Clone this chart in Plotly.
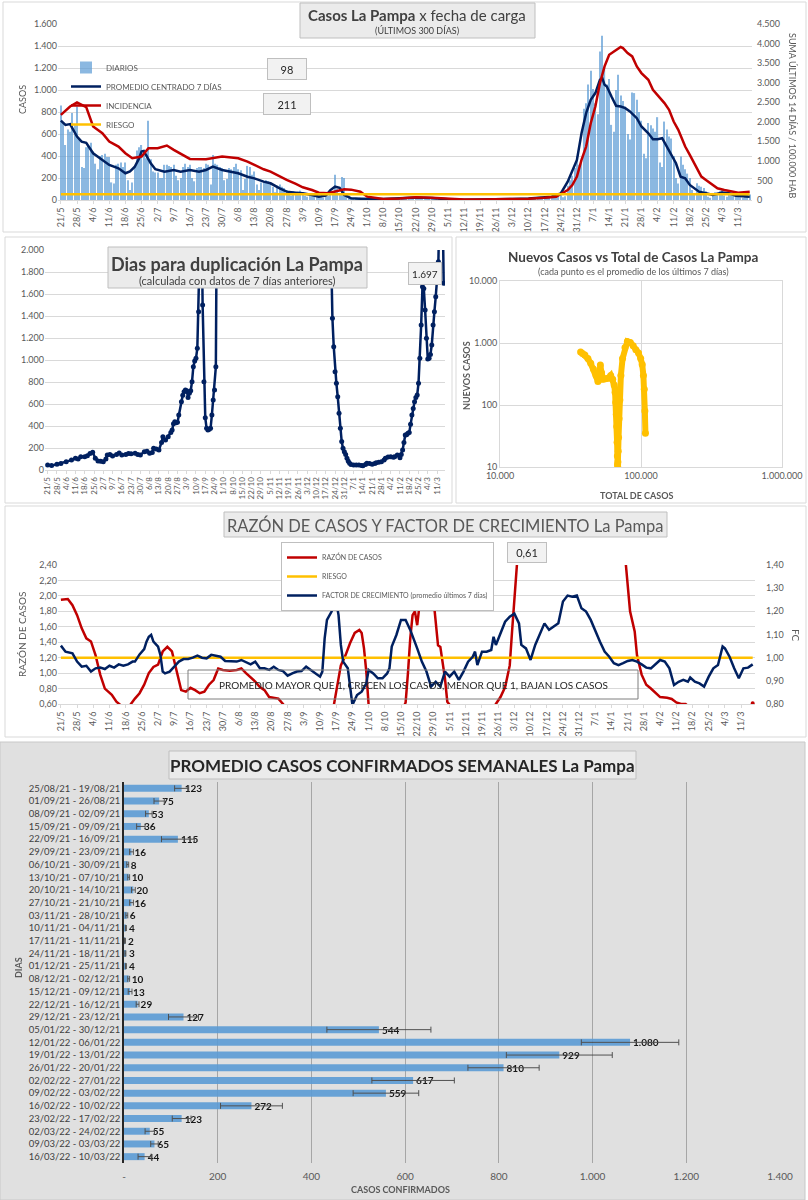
import pandas as pd
import plotly.graph_objects as go

W, H = 808, 1200


def px(x):
    return x / W


def py(y):
    return 1 - y / H


def fecha(s):
    d, m = s.split("/")
    anio = 2021 if int(m) >= 5 else 2022
    return f"{anio}-{int(m):02d}-{int(d):02d}"


FONT = "Lato"
GRIS = "#595959"
AZUL = "#002060"
ROJO = "#c00000"
NARANJA = "#ffc000"
CELESTE = "#5b9bd5"
GRILLA = "#d9d9d9"

# ---------------- datos: casos diarios (21/5/2021 -> 16/3/2022)
diarios = [
    860, 700, 500, 640, 620, 790, 680,
    850, 560, 300, 290, 480, 500, 520,
    440, 330, 280, 400, 410, 420, 390,
    390, 160, 150, 320, 330, 340, 300,
    340, 180, 90, 160, 310, 450, 480,
    500, 430, 380, 720, 370, 260, 250,
    250, 200, 200, 320, 320, 310, 300,
    320, 220, 180, 200, 300, 330, 300,
    320, 200, 170, 290, 300, 300, 290,
    330, 320, 140, 410, 330, 320, 300,
    290, 180, 190, 290, 280, 300, 330,
    280, 270, 90, 190, 310, 300, 230,
    260, 140, 90, 160, 170, 180, 170,
    160, 120, 70, 130, 140, 120, 110,
    90, 60, 40, 80, 70, 75, 85,
    70, 40, 30, 60, 55, 60, 55,
    50, 25, 20, 30, 40, 60, 55,
    230, 100, 50, 210, 200, 60, 40,
    20, 10, 8, 18, 20, 15, 12,
    10, 5, 4, 9, 10, 8, 9,
    12, 6, 5, 12, 11, 12, 10,
    22, 10, 8, 25, 28, 24, 22,
    20, 9, 8, 18, 20, 18, 17,
    8, 4, 3, 7, 6, 7, 6,
    5, 2, 2, 4, 5, 5, 5,
    3, 1, 1, 2, 3, 2, 2,
    4, 2, 1, 3, 4, 3, 4,
    5, 2, 2, 5, 5, 5, 4,
    9, 5, 4, 12, 13, 14, 13,
    15, 8, 6, 15, 16, 15, 16,
    20, 12, 10, 30, 35, 45, 55,
    55, 25, 35, 130, 180, 220, 290,
    400, 320, 360, 830, 880, 1050, 1175,
    1010, 880, 780, 1350, 1494, 1200, 1050,
    1100, 683, 620, 1000, 1138, 950, 900,
    850, 600, 550, 978, 972, 911, 800,
    720, 420, 380, 700, 680, 650, 620,
    753, 340, 300, 713, 640, 577, 560,
    400, 200, 150, 395, 320, 280, 240,
    200, 90, 60, 152, 130, 120, 110,
    80, 30, 20, 40, 70, 65, 80,
    90, 40, 30, 80, 75, 70, 70,
    60, 25, 20, 50, 55, 50,
]
fechas_diarias = pd.date_range("2021-05-21", periods=len(diarios), freq="D")

# promedio centrado 7 dias
prom7_fechas = ["21/5", "23/5", "25/5", "28/5", "30/5", "1/6", "4/6", "8/6", "11/6", "15/6", "18/6", "20/6",
                "22/6", "24/6", "25/6", "26/6", "27/6", "29/6", "1/7", "2/7", "5/7", "9/7", "12/7", "16/7",
                "20/7", "23/7", "26/7", "30/7", "3/8", "6/8", "10/8", "13/8", "17/8", "20/8", "24/8", "27/8",
                "31/8", "3/9", "7/9", "10/9", "13/9", "15/9", "17/9", "19/9", "21/9", "24/9", "28/9", "1/10",
                "8/10", "15/10", "22/10", "29/10", "5/11", "12/11", "19/11", "26/11", "3/12", "10/12", "17/12",
                "20/12", "22/12", "24/12", "27/12", "29/12", "31/12", "2/1", "4/1", "6/1", "8/1", "10/1",
                "11/1", "12/1", "13/1", "15/1", "17/1", "19/1", "21/1", "23/1", "26/1", "28/1", "31/1", "2/2",
                "4/2", "6/2", "8/2", "10/2", "12/2", "14/2", "16/2", "18/2", "20/2", "22/2", "25/2", "28/2",
                "4/3", "7/3", "10/3", "13/3", "16/3"]
prom7_valores = [722, 683, 690, 577, 531, 520, 425, 364, 319, 288, 243, 260,
                 300, 380, 440, 445, 410, 334, 280, 273, 258, 273, 258, 273,
                 258, 273, 304, 273, 258, 243, 212, 197, 167, 152, 106, 76,
                 67, 61, 46, 30, 40, 90, 121, 110, 46, 15, 12, 10,
                 9, 15, 22, 18, 6, 3, 3, 4, 9, 13, 22,
                 30, 46, 60, 167, 273, 364, 607, 789, 911, 972, 1093,
                 1108, 1047, 1032, 941, 856, 850, 835, 805, 744, 668, 607, 553,
                 553, 562, 486, 410, 334, 212, 197, 137, 106, 76, 61, 46,
                 67, 61, 39, 36, 30]

# incidencia: suma ultimos 14 dias / 100.000 hab
inc_fechas = ["21/5", "25/5", "28/5", "1/6", "4/6", "8/6", "11/6", "15/6", "18/6", "21/6", "25/6", "28/6",
              "2/7", "6/7", "9/7", "13/7", "16/7", "23/7", "30/7", "6/8", "10/8", "13/8", "17/8", "20/8",
              "24/8", "27/8", "31/8", "3/9", "7/9", "10/9", "14/9", "17/9", "21/9", "24/9", "28/9", "1/10",
              "5/10", "8/10", "15/10", "22/10", "29/10", "5/11", "12/11", "19/11", "26/11", "3/12", "10/12",
              "17/12", "22/12", "24/12", "27/12", "29/12", "31/12", "2/1", "4/1", "6/1", "8/1", "10/1",
              "12/1", "14/1", "17/1", "19/1", "20/1", "22/1", "24/1", "26/1", "28/1", "31/1", "2/2", "4/2",
              "7/2", "9/2", "11/2", "13/2", "16/2", "18/2", "20/2", "23/2", "25/2", "28/2", "2/3", "5/3",
              "8/3", "11/3", "16/3"]
inc_valores = [2178, 2391, 2494, 2374, 1879, 1708, 1494, 1366, 1196, 1067, 1110, 1324,
               1324, 1392, 1281, 1153, 1050, 1042, 1110, 1067, 982, 897, 786, 726,
               598, 512, 410, 325, 256, 188, 171, 213, 273, 265, 213, 85,
               43, 26, 40, 68, 60, 30, 15, 12, 15, 25, 35,
               55, 85, 154, 256, 384, 598, 1025, 1366, 1964, 2391, 2989,
               3416, 3715, 3843, 3911, 3885, 3758, 3672, 3416, 3245, 3074, 2818, 2690,
               2477, 2306, 2007, 1793, 1366, 1153, 939, 598, 512, 384, 299, 256,
               213, 188, 213]
RIESGO_INC = 150

# dias para duplicacion
dup_fechas = ["21/5", "24/5", "28/5", "31/5", "4/6", "8/6", "11/6", "13/6", "15/6", "18/6", "20/6", "22/6",
              "24/6", "26/6", "28/6", "30/6", "2/7", "4/7", "5/7", "7/7", "9/7", "12/7", "14/7", "16/7",
              "19/7", "21/7", "23/7", "26/7", "28/7", "30/7", "2/8", "4/8", "6/8", "8/8", "9/8", "11/8",
              "13/8", "15/8", "16/8", "18/8", "20/8", "22/8", "23/8", "24/8", "25/8", "26/8", "27/8", "28/8",
              "30/8", "31/8", "1/9", "2/9", "3/9", "4/9", "5/9", "6/9", "7/9", "8/9", "9/9", "10/9",
              "11/9", "12/9", "13/9", "14/9", "15/9", "16/9", "17/9", "18/9", "19/9", "20/9", "21/9", "22/9",
              "23/9", "24/9", "25/9", "26/9", "27/9", "19/12", "20/12", "22/12", "23/12", "24/12", "25/12",
              "26/12", "27/12", "28/12", "29/12", "30/12", "31/12", "1/1", "2/1", "3/1", "4/1", "5/1", "7/1",
              "9/1", "11/1", "13/1", "14/1", "16/1", "17/1", "19/1", "21/1", "23/1", "24/1", "26/1", "28/1",
              "30/1", "31/1", "2/2", "4/2", "6/2", "7/2", "9/2", "11/2", "12/2", "13/2", "14/2", "15/2",
              "16/2", "17/2", "18/2", "19/2", "20/2", "21/2", "22/2", "23/2", "24/2", "25/2", "26/2", "27/2",
              "28/2", "1/3", "2/3", "3/3", "4/3", "5/3", "6/3", "7/3", "8/3", "9/3", "10/3", "11/3",
              "12/3", "13/3", "14/3", "15/3", "16/3"]
dup_valores = [45, 40, 52, 60, 76, 90, 106, 100, 121, 121, 130, 150,
               161, 106, 82, 80, 76, 100, 136, 140, 127, 142, 155, 136,
               140, 150, 148, 152, 140, 136, 167, 170, 152, 160, 197, 190,
               182, 250, 303, 273, 303, 340, 364, 420, 439, 430, 433, 500,
               621, 680, 712, 727, 720, 660, 697, 720, 803, 939, 990, 1015,
               1106, 1439, 1833, 2600, 1500, 803, 476, 379, 364, 370, 379, 500,
               636, 727, 939, 3000, None, None, 2600, 1379, 1121, 894, 788,
               667, 515, 379, 258, 197, 167, 140, 106, 80, 61, 50, 45,
               45, 45, 42, 39, 50, 61, 58, 52, 60, 67, 70, 76,
               90, 106, 118, 121, 115, 121, 136, 112, 140, 182, 250, 318,
               320, 333, 340, 415, 500, 560, 621, 660, 682, 788, 1015, 1318,
               1667, 1651, 1454, 1197, 1009, 1015, 1051, 1136, 1318, 1439, 1575, 1750,
               1894, 2500, 2700, 2600, 1697]

# nuevos casos vs total de casos
total_casos = [37300, 38500, 40000, 42000, 44000, 46000, 48000, 49500, 50500, 51500, 52500, 54000,
               56000, 58500, 61000, 63000, 64500, 65500, 66200, 66800, 67300, 67700, 68000, 68200,
               68400, 68600, 68900, 69300, 69900, 70800, 72000, 74000, 77000, 80000, 84000, 88000,
               92000, 96000, 99500, 102000, 104000, 105500, 106500, 107500]
nuevos_casos = [716, 680, 640, 560, 470, 380, 300, 240, 300, 440, 330, 260,
                265, 270, 300, 260, 210, 160, 110, 70, 45, 25, 15, 11,
                10, 12, 18, 30, 60, 120, 300, 560, 850, 1060, 1020, 900,
                780, 690, 560, 450, 300, 180, 80, 35]

# razon de casos
razon_fechas = ["21/5", "24/5", "26/5", "28/5", "30/5", "1/6", "3/6", "5/6", "7/6", "9/6", "12/6", "14/6",
                "16/6", "17/6", "18/6", "19/6", "20/6", "22/6", "24/6", "26/6", "28/6", "30/6", "2/7", "4/7",
                "6/7", "8/7", "10/7", "12/7", "14/7", "16/7", "18/7", "20/7", "22/7", "24/7", "26/7", "28/7",
                "30/7", "2/8", "5/8", "7/8", "9/8", "11/8", "13/8", "15/8", "17/8", "19/8", "21/8", "23/8",
                "25/8", "27/8", "30/8", "3/9", "7/9", "11/9", "14/9", "16/9", "17/9", "18/9", "19/9", "21/9",
                "23/9", "25/9", "27/9", "28/9", "29/9", "30/9", "1/10", "3/10", "6/10", "10/10", "14/10",
                "16/10", "17/10", "18/10", "19/10", "20/10", "21/10", "22/10", "23/10", "25/10", "27/10",
                "29/10", "30/10", "31/10", "1/11", "3/11", "4/11", "5/11", "7/11", "12/11", "18/11", "23/11",
                "25/11", "27/11", "29/11", "1/12", "2/12", "3/12", "4/12", "8/12", "15/12", "25/12", "5/1",
                "15/1", "19/1", "20/1", "22/1", "24/1", "25/1", "27/1", "29/1", "31/1", "2/2", "4/2", "7/2",
                "9/2", "11/2", "13/2", "15/2", "17/2", "22/2", "1/3", "8/3", "13/3", "15/3", "16/3"]
razon_valores = [1.95, 1.96, 1.88, 1.75, 1.58, 1.45, 1.41, 1.23, 0.98, 0.80, 0.72, 0.63,
                 0.58, 0.52, 0.50, 0.55, 0.59, 0.67, 0.74, 0.85, 1.00, 1.08, 1.11, 1.28,
                 1.34, 1.28, 1.02, 0.78, 0.76, 0.81, 0.78, 0.74, 0.76, 0.85, 0.91, 1.06,
                 1.04, 1.03, 1.04, 1.06, 1.00, 0.95, 0.89, 0.82, 0.78, 0.69, 0.68, 0.67,
                 0.60, 0.52, 0.45, 0.40, 0.38, 0.42, 0.50, 0.59, 0.76, 0.93, 1.10, 1.23,
                 1.39, 1.52, 1.56, 1.52, 1.32, 1.02, 0.59, 0.40, 0.30, 0.35, 0.50,
                 0.55, 0.62, 1.00, 1.45, 1.75, 1.80, 1.62, 1.88, 1.95, 1.99,
                 1.97, 1.67, 1.36, 1.34, 0.93, 0.63, 0.59, 0.45, 0.30, 0.35, 0.50,
                 0.60, 0.69, 0.82, 1.10, 1.54, 2.31, 2.80, 4.00, 6.00, 8.00, 6.00,
                 4.00, 2.80, 2.45, 1.80, 1.54, 1.23, 0.98, 0.85, 0.80, 0.74, 0.69, 0.68,
                 0.665, 0.62, 0.60, 0.60, 0.55, 0.45, 0.40, 0.45, 0.50, 0.55, 0.61]
RIESGO_RAZON = 1.2

# factor de crecimiento (promedio ultimos 7 dias)
fc_fechas = ["21/5", "23/5", "26/5", "28/5", "30/5", "1/6", "3/6", "5/6", "7/6", "9/6", "11/6", "13/6",
             "15/6", "17/6", "19/6", "21/6", "22/6", "24/6", "26/6", "27/6", "28/6", "29/6", "30/6", "2/7",
             "3/7", "4/7", "5/7", "7/7", "9/7", "11/7", "13/7", "15/7", "17/7", "19/7", "21/7", "23/7",
             "25/7", "27/7", "29/7", "31/7", "3/8", "5/8", "7/8", "9/8", "11/8", "13/8", "15/8", "17/8",
             "19/8", "21/8", "23/8", "25/8", "27/8", "29/8", "31/8", "2/9", "4/9", "6/9", "8/9", "10/9",
             "11/9", "12/9", "13/9", "15/9", "16/9", "17/9", "18/9", "19/9", "20/9", "22/9", "24/9", "26/9",
             "28/9", "30/9", "1/10", "3/10", "5/10", "7/10", "9/10", "10/10", "11/10", "13/10", "15/10",
             "17/10", "19/10", "21/10", "22/10", "24/10", "26/10", "28/10", "30/10", "1/11", "3/11", "5/11",
             "7/11", "9/11", "11/11", "13/11", "15/11", "16/11", "17/11", "19/11", "21/11", "23/11", "24/11",
             "25/11", "27/11", "29/11", "1/12", "3/12", "5/12", "6/12", "8/12", "10/12", "12/12", "14/12",
             "16/12", "18/12", "20/12", "22/12", "24/12", "26/12", "28/12", "30/12", "1/1", "3/1", "5/1",
             "7/1", "9/1", "11/1", "13/1", "15/1", "17/1", "19/1", "21/1", "23/1", "25/1", "27/1", "29/1",
             "31/1", "2/2", "4/2", "6/2", "8/2", "10/2", "12/2", "14/2", "16/2", "17/2", "19/2", "21/2",
             "23/2", "25/2", "27/2", "1/3", "3/3", "4/3", "6/3", "8/3", "10/3", "12/3", "14/3", "16/3"]
fc_valores = [1.052, 1.026, 1.019, 0.983, 0.961, 0.965, 0.940, 0.954, 0.957, 0.951, 0.965, 0.957,
              0.971, 0.965, 0.971, 0.983, 0.983, 1.014, 1.037, 1.069, 1.090, 1.098, 1.069, 1.048,
              1.012, 0.940, 0.932, 0.940, 0.961, 0.983, 0.994, 0.994, 1.000, 1.009, 1.000, 0.997,
              1.012, 1.009, 1.004, 0.986, 0.986, 0.983, 0.990, 0.980, 0.971, 0.983, 0.954, 0.954,
              0.947, 0.961, 0.947, 0.942, 0.922, 0.932, 0.940, 0.942, 0.961, 0.947, 0.932, 0.918,
              0.940, 1.083, 1.163, 1.199, 1.227, 1.242, 1.184, 1.055, 0.983, 0.954, 0.796, 0.839,
              0.853, 0.889, 0.947, 0.932, 0.911, 0.911, 0.932, 0.954, 1.048, 1.098, 1.163,
              1.163, 1.120, 1.069, 1.040, 0.983, 0.940, 0.875, 0.896, 0.875, 0.940, 0.918,
              0.940, 0.904, 0.940, 0.983, 1.004, 1.026, 0.968, 1.026, 1.026, 1.033, 1.090,
              1.055, 1.105, 1.155, 1.177, 1.190, 1.148, 1.055, 1.040, 0.990, 1.055, 1.105,
              1.148, 1.120, 1.134, 1.148, 1.242, 1.268, 1.263, 1.268, 1.213, 1.199, 1.163,
              1.112, 1.069, 1.026, 1.004, 0.976, 0.968, 0.976, 0.986, 0.990, 0.983, 0.971, 0.957,
              0.954, 0.971, 0.990, 0.983, 0.954, 0.882, 0.896, 0.904, 0.896, 0.914, 0.896, 0.889,
              0.875, 0.918, 0.954, 0.968, 1.048, 1.040, 1.004, 0.954, 0.911, 0.954, 0.957, 0.971]

# promedio semanal de casos confirmados
semanas = ["25/08/21 - 19/08/21", "01/09/21 - 26/08/21", "08/09/21 - 02/09/21", "15/09/21 - 09/09/21",
           "22/09/21 - 16/09/21", "29/09/21 - 23/09/21", "06/10/21 - 30/09/21", "13/10/21 - 07/10/21",
           "20/10/21 - 14/10/21", "27/10/21 - 21/10/21", "03/11/21 - 28/10/21", "10/11/21 - 04/11/21",
           "17/11/21 - 11/11/21", "24/11/21 - 18/11/21", "01/12/21 - 25/11/21", "08/12/21 - 02/12/21",
           "15/12/21 - 09/12/21", "22/12/21 - 16/12/21", "29/12/21 - 23/12/21", "05/01/22 - 30/12/21",
           "12/01/22 - 06/01/22", "19/01/22 - 13/01/22", "26/01/22 - 20/01/22", "02/02/22 - 27/01/22",
           "09/02/22 - 03/02/22", "16/02/22 - 10/02/22", "23/02/22 - 17/02/22", "02/03/22 - 24/02/22",
           "09/03/22 - 03/03/22", "16/03/22 - 10/03/22"]
promedio_semanal = [123, 75, 53, 36, 115, 16, 8, 10, 20, 16, 6, 4, 2, 3, 4, 10, 13, 29, 127, 544,
                    1080, 929, 810, 617, 559, 272, 123, 55, 65, 44]
error_semanal = [15, 11, 7, 9, 35, 4, 2, 2, 4, 4, 2, 1, 1, 1, 1, 2, 4, 3, 32, 111,
                 104, 113, 76, 88, 70, 66, 20, 10, 8, 14]

fig = go.Figure()

# ---------------- panel 1
fig.add_trace(go.Bar(x=fechas_diarias, y=diarios, name="DIARIOS", marker=dict(color=CELESTE, line_width=0),
                     opacity=0.7, width=0.5 * 86400000, xaxis="x", yaxis="y", legend="legend", legendgroup="a"))
fig.add_trace(go.Scatter(x=[fecha(f) for f in prom7_fechas], y=prom7_valores, name="PROMEDIO CENTRADO 7 DÍAS",
                         mode="lines", line=dict(color=AZUL, width=2.5), xaxis="x", yaxis="y",
                         legend="legend", legendgroup="b"))
fig.add_trace(go.Scatter(x=[fecha(f) for f in inc_fechas], y=inc_valores, name="INCIDENCIA",
                         mode="lines", line=dict(color=ROJO, width=2.5), xaxis="x", yaxis="y2",
                         legend="legend", legendgroup="c"))
fig.add_trace(go.Scatter(x=[fechas_diarias[0], fechas_diarias[-1]], y=[RIESGO_INC, RIESGO_INC], name="RIESGO",
                         mode="lines", line=dict(color=NARANJA, width=2.5), xaxis="x", yaxis="y2",
                         legend="legend", legendgroup="d"))

# ---------------- panel 2
fig.add_trace(go.Scatter(x=[fecha(f) for f in dup_fechas], y=dup_valores, mode="lines+markers",
                         line=dict(color=AZUL, width=2.5), marker=dict(color=AZUL, size=5),
                         xaxis="x2", yaxis="y3", showlegend=False, connectgaps=False))

# ---------------- panel 3
fig.add_trace(go.Scatter(x=total_casos, y=nuevos_casos, mode="lines+markers",
                         line=dict(color=NARANJA, width=6), marker=dict(color=NARANJA, size=7),
                         xaxis="x3", yaxis="y4", showlegend=False))

# ---------------- panel 4
fig.add_trace(go.Scatter(x=[fecha(f) for f in razon_fechas], y=razon_valores, name="RAZÓN DE CASOS",
                         mode="lines", line=dict(color=ROJO, width=2.5), xaxis="x4", yaxis="y5",
                         legend="legend2", legendgroup="e"))
fig.add_trace(go.Scatter(x=[fechas_diarias[0], fechas_diarias[-1]], y=[RIESGO_RAZON, RIESGO_RAZON],
                         name="RIESGO", mode="lines", line=dict(color=NARANJA, width=2.5),
                         xaxis="x4", yaxis="y5", legend="legend2", legendgroup="f"))
fig.add_trace(go.Scatter(x=[fecha(f) for f in fc_fechas], y=fc_valores,
                         name="FACTOR DE CRECIMIENTO (promedio últimos 7 días)",
                         mode="lines", line=dict(color=AZUL, width=2.5), xaxis="x4", yaxis="y6",
                         legend="legend2", legendgroup="g"))
fig.add_trace(go.Scatter(x=[fecha(razon_fechas[-1])], y=[razon_valores[-1]], mode="markers",
                         marker=dict(color=ROJO, size=4), xaxis="x4", yaxis="y5", showlegend=False))

# ---------------- panel 5
fig.add_trace(go.Bar(y=semanas, x=promedio_semanal, orientation="h", width=0.55,
                     marker=dict(color="#5b9bd5", line_width=0), opacity=0.9,
                     error_x=dict(type="data", array=error_semanal, color="#404040", thickness=1, width=3),
                     texttemplate="%{x:,d}", textposition="outside", cliponaxis=False, constraintext="none",
                     textfont=dict(size=10, color="black", family=FONT, weight="bold"),
                     xaxis="x5", yaxis="y7", showlegend=False))

fechas_eje = dict(type="date", range=["2021-05-19 18:00", "2022-03-17"], tick0="2021-05-21",
                  dtick=7 * 86400000, tickformat="%-d/%-m", tickangle=-90, showgrid=False,
                  showline=True, linecolor=GRILLA, ticks="outside", ticklen=3, tickcolor=GRILLA,
                  tickfont=dict(size=9, color=GRIS), zeroline=False, automargin=False)
tick_y = dict(tickfont=dict(size=9, color=GRIS), zeroline=False, ticks="", automargin=False)

fig.update_layout(
    width=W, height=H, margin=dict(l=0, r=0, t=0, b=0, pad=0, autoexpand=False),
    paper_bgcolor="white", plot_bgcolor="rgba(0,0,0,0)", separators=",.",
    font=dict(family=FONT, color=GRIS), barmode="overlay",
    xaxis=dict(fechas_eje, domain=[px(58), px(752)], anchor="y"),
    yaxis=dict(tick_y, domain=[py(200), py(24)], range=[0, 1600], dtick=200, tickformat=",d",
               gridcolor=GRILLA, anchor="x"),
    yaxis2=dict(tick_y, overlaying="y", side="right", range=[0, 4500], dtick=500, tickformat=",d",
                showgrid=False, anchor="x", ticklabelstandoff=4),
    xaxis2=dict(fechas_eje, domain=[px(45), px(445)], anchor="y3", range=["2021-05-19", "2022-03-17"],
                tickfont=dict(size=8, color=GRIS)),
    yaxis3=dict(tick_y, domain=[py(470), py(250)], range=[0, 2000], dtick=200, tickformat=",d",
                gridcolor=GRILLA, anchor="x2"),
    xaxis3=dict(type="log", domain=[px(500), px(782)], range=[4, 6], anchor="y4", automargin=False,
                tickvals=[10000, 100000, 1000000], tickformat=",d", gridcolor=GRILLA,
                showline=True, mirror=True, linecolor=GRILLA, tickfont=dict(size=9, color=GRIS)),
    yaxis4=dict(type="log", domain=[py(467), py(281)], range=[1, 4], anchor="x3", automargin=False,
                tickvals=[10, 100, 1000, 10000], tickformat=",d", gridcolor=GRILLA,
                showline=True, mirror=True, linecolor=GRILLA, tickfont=dict(size=9, color=GRIS)),
    xaxis4=dict(fechas_eje, domain=[px(58), px(755)], anchor="y5"),
    yaxis5=dict(tick_y, domain=[py(704), py(565)], range=[0.6, 2.4], dtick=0.2, tickformat=".2f",
                gridcolor=GRILLA, anchor="x4"),
    yaxis6=dict(tick_y, overlaying="y5", side="right", range=[0.8, 1.4], dtick=0.1, tickformat=".2f",
                showgrid=False, anchor="x4", ticklabelstandoff=10),
    xaxis5=dict(domain=[px(124), px(780)], range=[0, 1400], anchor="y7", automargin=False,
                tickvals=[0, 200, 400, 600, 800, 1000, 1200, 1400],
                ticktext=["-", "200", "400", "600", "800", "1.000", "1.200", "1.400"],
                gridcolor="#a6a6a6", zeroline=False, tickfont=dict(size=10, color=GRIS),
                ticklabelstandoff=6),
    yaxis7=dict(domain=[py(1163), py(782)], type="category", autorange="reversed", anchor="x5",
                showline=True, linecolor="#262626", linewidth=1.5, ticks="", automargin=False,
                tickfont=dict(size=9.5, color="#404040")),
    legend=dict(x=px(66), y=py(53), xanchor="left", yanchor="top", bgcolor="rgba(0,0,0,0)",
                font=dict(size=8, color=GRIS), traceorder="normal", tracegroupgap=0, itemwidth=30),
    legend2=dict(x=px(281), y=py(542), xanchor="left", yanchor="top", bgcolor="white",
                 bordercolor="#bfbfbf", borderwidth=1, font=dict(size=7, color=GRIS),
                 traceorder="normal", tracegroupgap=0, itemwidth=30),
)

shapes = []
# fondo del panel 5
shapes.append(dict(type="rect", xref="paper", yref="paper", x0=px(0), x1=px(805), y0=py(1200), y1=py(742),
                   fillcolor="#e0e0e0", line=dict(color="#c8c8c8", width=1), layer="below"))
# bordes de paneles
for x0, y0, x1, y1 in [(3, 2, 806, 232), (5, 237, 452, 503), (456, 237, 806, 503), (5, 506, 806, 737)]:
    shapes.append(dict(type="rect", xref="paper", yref="paper", x0=px(x0), x1=px(x1), y0=py(y1), y1=py(y0),
                       line=dict(color=GRILLA, width=1), fillcolor="rgba(0,0,0,0)"))
# cajas de titulo
for x0, y0, x1, y1 in [(300, 3, 535, 38), (108, 247, 367, 288), (224, 512, 667, 537), (169, 751, 636, 779)]:
    shapes.append(dict(type="rect", xref="paper", yref="paper", x0=px(x0), x1=px(x1), y0=py(y1), y1=py(y0),
                       line=dict(color="#bfbfbf", width=1), fillcolor="#ebebeb"))
# caja de nota panel 4
shapes.append(dict(type="rect", xref="paper", yref="paper", x0=px(188), x1=px(638), y0=py(699), y1=py(670),
                   line=dict(color="#7f7f7f", width=1), fillcolor="rgba(0,0,0,0)"))
fig.update_layout(shapes=shapes)


def texto(x, y, t, size, color=GRIS, angle=0):
    fig.add_annotation(x=px(x), y=py(y), xref="paper", yref="paper", text=t, showarrow=False,
                       xanchor="center", yanchor="middle", textangle=angle,
                       font=dict(size=size, color=color, family=FONT))


def caja(x, y, t, w, h, size=11):
    fig.add_annotation(x=px(x), y=py(y), xref="paper", yref="paper", text=t, showarrow=False,
                       xanchor="center", yanchor="middle",
                       font=dict(size=size, color="#262626", family=FONT), width=w, height=h,
                       bgcolor="#f2f2f2", bordercolor="#bfbfbf", borderwidth=1, borderpad=1)


texto(417, 15, "<b>Casos La Pampa</b> x fecha de carga", 15, "#404040")
texto(417, 30, "(ÚLTIMOS 300 DÍAS)", 9, "#404040")
texto(22, 100, "CASOS", 9, angle=-90)
texto(792, 115, "SUMA ÚLTIMOS 14 DÍAS / 100.000 HAB", 9, angle=90)
caja(287, 69, "98", 36, 18)
caja(287, 104, "211", 44, 18)

texto(237, 264, "<b>Dias para duplicación La Pampa</b>", 18, "#404040")
texto(237, 281, "(calculada con datos de 7 días anteriores)", 11, "#404040")
caja(425, 273, "1.697", 30, 19, size=10)

texto(633, 257, "<b>Nuevos Casos vs Total de Casos La Pampa</b>", 13.5, "#404040")
texto(633, 271, "(cada punto es el promedio de los últimos 7 días)", 9)
texto(636, 495, "<b>TOTAL DE CASOS</b>", 9)
texto(466, 375, "<b>NUEVOS CASOS</b>", 9, angle=-90)

texto(445, 525, "RAZÓN DE CASOS Y FACTOR DE CRECIMIENTO La Pampa", 16.5)
caja(527, 552, "0,61", 36, 17, size=11)
texto(413, 685, "PROMEDIO MAYOR QUE 1, CRECEN LOS CASOS, MENOR QUE 1, BAJAN LOS CASOS", 10, "#262626")
texto(22, 635, "RAZÓN DE CASOS", 10, angle=-90)
texto(796, 635, "FC", 10, angle=90)

texto(402, 765, "<b>PROMEDIO CASOS CONFIRMADOS SEMANALES La Pampa</b>", 17, "#262626")
texto(400, 1189, "<b>CASOS CONFIRMADOS</b>", 9)
texto(18, 968, "<b>DIAS</b>", 9, angle=-90)

# la pagina por defecto deja un margen de 8 px alrededor del grafico
fig.write_html("out.html", config={"displayModeBar": False},
               post_script="document.body.style.margin='0';")
